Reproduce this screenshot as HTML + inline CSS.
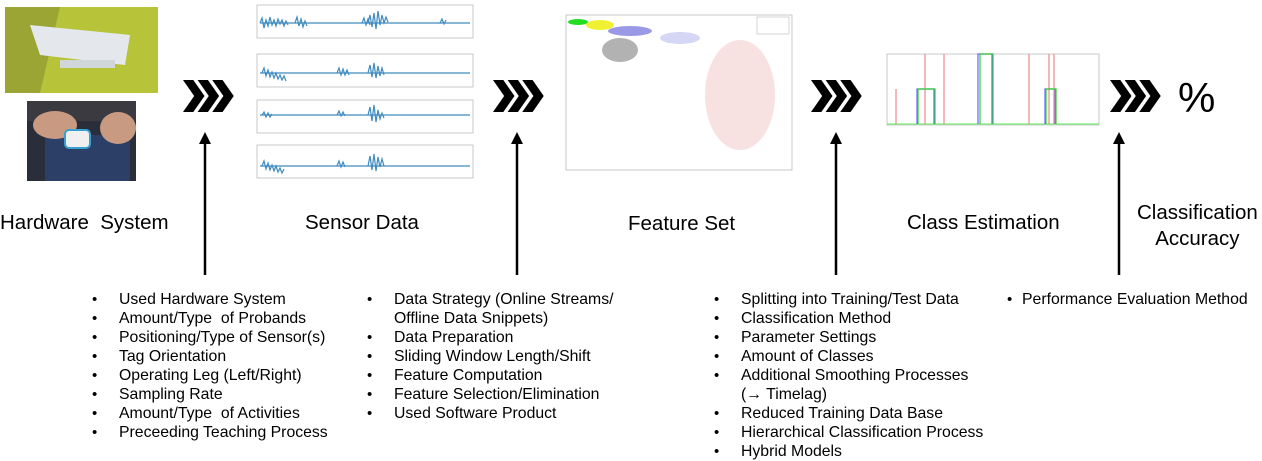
<!DOCTYPE html>
<html><head><meta charset="utf-8"><style>
body{margin:0;width:1262px;height:461px;background:#fff;position:relative;overflow:hidden;font-family:"Liberation Sans",Arial,sans-serif;color:#000}
.t{position:absolute;font-size:20.5px;white-space:nowrap}
.l{position:absolute;font-size:15.8px;line-height:19px;margin:0;padding:0;list-style:none}
.l li{position:relative;padding-left:27px;white-space:nowrap}
.l li:before{content:"•";position:absolute;left:0;font-size:15px}
.l li.c:before{content:""}
svg{position:absolute;left:0;top:0}
</style></head><body>
<svg width="1262" height="461">
<defs>
<g id="chev" transform="scale(0.86,1)"><polygon points="0,0 12,0 25,16 12,32 0,32 13,16" fill="#000"/><polygon points="17,0 29,0 42,16 29,32 17,32 30,16" fill="#000"/><polygon points="34,0 46,0 59,16 46,32 34,32 47,16" fill="#000"/></g>
</defs>
<!-- photos -->
<rect x="5" y="7" width="153" height="86" fill="#b7c43a"/>
<polygon points="5,7 60,7 40,93 5,93" fill="#9aa534"/>
<polygon points="30,25 130,35 125,65 40,55" fill="#e4e8ec"/>
<rect x="60" y="60" width="55" height="8" fill="#d0d6da"/>
<rect x="27" y="101" width="109" height="80" fill="#2a2e3a"/>
<rect x="27" y="101" width="109" height="20" fill="#3a3a40"/>
<rect x="45" y="135" width="85" height="46" fill="#2c3f66"/>
<ellipse cx="55" cy="125" rx="22" ry="14" fill="#c99a82"/>
<ellipse cx="118" cy="128" rx="18" ry="16" fill="#c99a82"/>
<rect x="65" y="130" width="25" height="18" rx="4" fill="#f0f0f0" stroke="#3aa0d0" stroke-width="2"/>
<!-- sensor plots -->
<g stroke="#bbb" fill="none" stroke-width="0.8">
<rect x="257" y="5" width="216" height="33"/><rect x="257" y="54" width="216" height="33"/><rect x="257" y="100" width="216" height="33"/><rect x="257" y="145" width="216" height="33"/>
</g>
<g stroke="#1f77b4" stroke-width="1.2" fill="none" opacity="0.85">
<path d="M260,23 h210 M260,23 l2,-5 l2,10 l2,-8 l2,6 l2,-9 l2,8 l2,-5 l2,6 l2,-7 l2,5 l2,-4 l2,6 l2,-5 l2,4 M295,23 l2,-6 l2,9 l2,-7 l2,8 l2,-6 l2,5 M337,23 h25 l2,-5 l2,7 l2,-6 l2,6 M368,23 l2,-8 l2,12 l2,-14 l2,16 l2,-18 l2,14 l2,-10 l2,8 l2,-6 l2,5 M395,23 h45 l2,-4 l2,5 l2,-4"/>
<path d="M260,73 h210 M262,73 l2,-5 l2,8 l2,-6 l2,7 l2,-5 l2,6 l2,-5 l2,6 l2,-4 l2,5 l2,-4 l2,5 M337,73 l2,-5 l2,7 l2,-6 l2,6 l2,-5 l2,5 M368,73 l2,-8 l2,12 l2,-14 l2,15 l2,-12 l2,10 l2,-8 l2,7"/>
<path d="M260,115 h210 M262,115 l2,-3 l2,5 l2,-4 l2,4 l2,-3 M337,115 l2,-4 l2,5 l2,-4 l2,4 M368,115 l2,-8 l2,14 l2,-16 l2,17 l2,-12 l2,9 l2,-6 l2,5"/>
<path d="M260,166 h210 M262,166 l2,-5 l2,8 l2,-6 l2,7 l2,-5 l2,6 l2,-5 l2,6 l2,-4 l2,5 l2,-4 M337,166 l2,-5 l2,6 l2,-5 l2,5 M368,166 l2,-10 l2,14 l2,-16 l2,17 l2,-14 l2,10 l2,-8 l2,7"/>
</g>
<!-- scatter -->
<rect x="566" y="15" width="226" height="155" fill="none" stroke="#bbb" stroke-width="0.8"/>
<g>
<ellipse cx="578" cy="22" rx="10" ry="3" fill="#22dd22"/>
<ellipse cx="600" cy="25" rx="14" ry="5" fill="#eeee00" opacity="0.8"/>
<ellipse cx="630" cy="31" rx="22" ry="5" fill="#3333cc" opacity="0.5"/>
<ellipse cx="620" cy="50" rx="18" ry="12" fill="#222" opacity="0.35"/>
<ellipse cx="680" cy="38" rx="20" ry="6" fill="#3333cc" opacity="0.2"/>
<ellipse cx="740" cy="95" rx="35" ry="55" fill="#cc3333" opacity="0.15"/>
</g>
<rect x="757" y="17" width="32" height="17" fill="#fff" stroke="#aaa" stroke-width="0.5"/>
<!-- class plot -->
<rect x="887" y="54" width="212" height="71" fill="none" stroke="#bbb" stroke-width="0.8"/>
<g fill="none" stroke-width="1.2">
<path d="M887,124 H1099" stroke="#7e7"/>
<path d="M917,124 V89 H934 V124 M978,124 V54 H992 V124 M1045,124 V89 H1055 V124" stroke="#66f"/>
<path d="M896,124 V89 M925,124 V54 M944,124 V54 M1029,124 V54 M1049,124 V54 M1054,124 V54" stroke="#e88"/>
<path d="M918,124 V89 H935 V124 M980,124 V54 H993 V124 M1046,124 V89 H1056 V124" stroke="#3c3"/>
</g>
<!-- chevrons -->
<use href="#chev" x="183" y="80"/>
<use href="#chev" x="493" y="80"/>
<use href="#chev" x="811" y="80"/>
<use href="#chev" x="1110" y="80"/>
<!-- arrows -->
<g stroke="#000" stroke-width="2.5">
<line x1="205" y1="275" x2="205" y2="142"/><line x1="517" y1="275" x2="517" y2="142"/><line x1="836" y1="275" x2="836" y2="142"/><line x1="1119" y1="275" x2="1119" y2="142"/>
</g>
<g fill="#000">
<polygon points="199,144 211,144 205,132"/><polygon points="511,144 523,144 517,132"/><polygon points="830,144 842,144 836,132"/><polygon points="1113,144 1125,144 1119,132"/>
</g>
</svg>
<div class="t" style="left:1178px;top:74px;font-size:42px">%</div>
<div class="t" style="left:0px;top:211px">Hardware&nbsp; System</div>
<div class="t" style="left:305px;top:211px">Sensor Data</div>
<div class="t" style="left:628px;top:212px">Feature Set</div>
<div class="t" style="left:907px;top:211px">Class Estimation</div>
<div class="t" style="left:1137px;top:200px;text-align:center;line-height:26px">Classification<br>Accuracy</div>
<ul class="l" style="left:92px;top:290px">
<li>Used Hardware System</li><li>Amount/Type&nbsp; of Probands</li><li>Positioning/Type of Sensor(s)</li><li>Tag Orientation</li><li>Operating Leg (Left/Right)</li><li>Sampling Rate</li><li>Amount/Type&nbsp; of Activities</li><li>Preceeding Teaching Process</li>
</ul>
<ul class="l" style="left:367px;top:290px">
<li>Data Strategy (Online Streams/</li><li class="c">Offline Data Snippets)</li><li>Data Preparation</li><li>Sliding Window Length/Shift</li><li>Feature Computation</li><li>Feature Selection/Elimination</li><li>Used Software Product</li>
</ul>
<ul class="l" style="left:714px;top:290px">
<li>Splitting into Training/Test Data</li><li>Classification Method</li><li>Parameter Settings</li><li>Amount of Classes</li><li>Additional Smoothing Processes</li><li class="c">(→ Timelag)</li><li>Reduced Training Data Base</li><li>Hierarchical Classification Process</li><li>Hybrid Models</li>
</ul>
<ul class="l" style="left:1007px;top:290px">
<li style="padding-left:15px">Performance Evaluation Method</li>
</ul>
</body></html>
